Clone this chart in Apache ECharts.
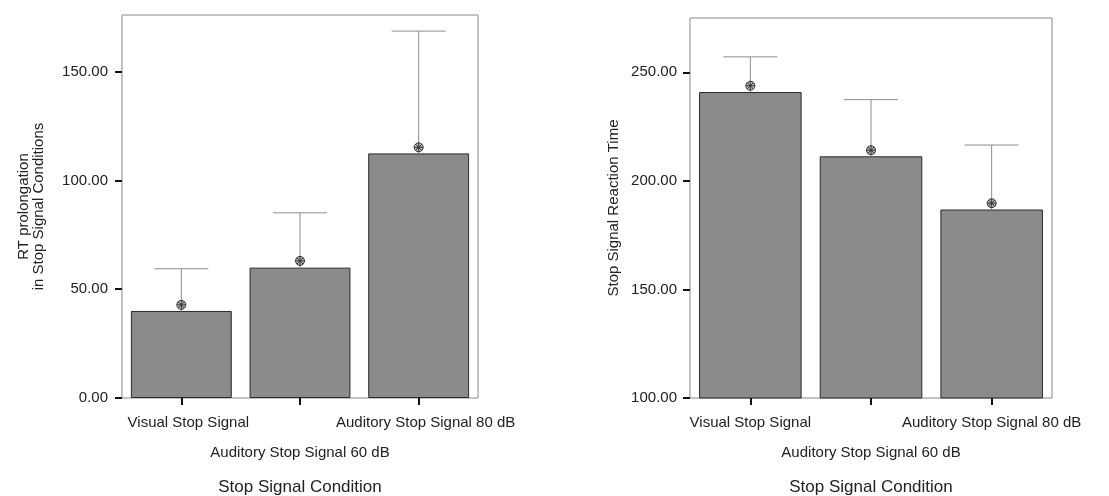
<!DOCTYPE html>
<html>
<head>
<meta charset="utf-8">
<script src="https://cdn.jsdelivr.net/npm/echarts@6/dist/echarts.min.js"></script>
<style>
  html, body { margin: 0; padding: 0; background: #fff; }
  #chart { width: 1109px; height: 496px; }
</style>
</head>
<body>
<div id="chart"></div>
<script>
// stop signal conditions
const categories = ['Visual Stop Signal', 'Auditory Stop Signal 60 dB', 'Auditory Stop Signal 80 dB']

// left panel: RT prolongation
const rtMeans = [40.0, 59.9, 112.4]
const rtMarkers = [42.8, 63.0, 115.2]
const rtErrTop = [59.4, 85.1, 168.6]
const rtTicks = [0, 50, 100, 150]

// right panel: stop signal reaction time
const ssrtMeans = [240.9, 211.3, 186.8]
const ssrtMarkers = [243.8, 214.1, 189.7]
const ssrtErrTop = [257.1, 237.4, 216.5]
const ssrtTicks = [100, 150, 200, 250]

const font = 'Liberation Sans, Arial, Helvetica, sans-serif'
const textColor = '#222'

function errData(means, tops, markers) {
  return means.map((m, i) => [i, m, tops[i], markers[i]])
}

function renderErr(params, api) {
  const i = api.value(0)
  const base = api.coord([i, api.value(1)])
  const top = api.coord([i, api.value(2)])
  const mk = api.coord([i, api.value(3)])
  const cap = 27
  const r = 4.5
  const d = r * 0.707
  const lineStyle = { stroke: '#8c8c8c', lineWidth: 1 }
  const mkStyle = { stroke: '#333', lineWidth: 1, fill: 'none' }
  return {
    type: 'group',
    children: [
      { type: 'line', shape: { x1: base[0], y1: base[1], x2: top[0], y2: top[1] }, style: lineStyle },
      { type: 'line', shape: { x1: top[0] - cap, y1: top[1], x2: top[0] + cap, y2: top[1] }, style: lineStyle },
      { type: 'circle', shape: { cx: mk[0], cy: mk[1], r: r }, style: { stroke: '#333', lineWidth: 1, fill: '#bbb' } },
      { type: 'line', shape: { x1: mk[0] - r, y1: mk[1], x2: mk[0] + r, y2: mk[1] }, style: mkStyle },
      { type: 'line', shape: { x1: mk[0], y1: mk[1] - r, x2: mk[0], y2: mk[1] + r }, style: mkStyle },
      { type: 'line', shape: { x1: mk[0] - d, y1: mk[1] - d, x2: mk[0] + d, y2: mk[1] + d }, style: mkStyle },
      { type: 'line', shape: { x1: mk[0] - d, y1: mk[1] + d, x2: mk[0] + d, y2: mk[1] - d }, style: mkStyle }
    ]
  }
}

// staggered labels; shift nudges the first row to the right
function xAxis(gridIndex, shift) {
  return {
    type: 'category',
    gridIndex: gridIndex,
    data: categories,
    axisLine: { show: false },
    axisTick: { show: true, alignWithLabel: true, length: 7, lineStyle: { color: '#111', width: 2 } },
    axisLabel: {
      interval: 0,
      margin: 10,
      color: textColor,
      fontFamily: font,
      fontSize: 15,
      lineHeight: 30,
      formatter: (v, i) => (i === 1 ? '\n' + v : '{r|' + v + '}'),
      rich: {
        r: { fontFamily: font, fontSize: 15, color: textColor, lineHeight: 30, padding: [0, 0, 0, shift] }
      }
    },
    name: 'Stop Signal Condition',
    nameLocation: 'middle',
    nameGap: 81,
    nameTextStyle: { color: textColor, fontFamily: font, fontSize: 17 }
  }
}

function yAxis(gridIndex, min, max, ticks, name, gap, margin) {
  return {
    type: 'value',
    gridIndex: gridIndex,
    min: min,
    max: max,
    interval: 50,
    splitLine: { show: false },
    axisLine: { show: false },
    axisTick: { show: true, length: 7, customValues: ticks, lineStyle: { color: '#111', width: 2 } },
    axisLabel: {
      margin: margin,
      color: textColor,
      fontFamily: font,
      fontSize: 15,
      customValues: ticks,
      formatter: v => v.toFixed(2)
    },
    name: name,
    nameLocation: 'middle',
    nameRotate: 90,
    nameGap: gap,
    nameTextStyle: { color: textColor, fontFamily: font, fontSize: 15, lineHeight: 15 }
  }
}

const barStyle = { color: '#8a8b8d', borderColor: '#2a2a2a', borderWidth: 1 }

const chart = echarts.init(document.getElementById('chart'))
chart.setOption({
  animation: false,
  backgroundColor: '#fff',
  grid: [
    { left: 122, top: 15, width: 356, height: 383, outerBoundsMode: 'none', containLabel: false, show: true, borderColor: '#888', borderWidth: 1, backgroundColor: 'transparent' },
    { left: 690, top: 18, width: 362, height: 380, outerBoundsMode: 'none', containLabel: false, show: true, borderColor: '#888', borderWidth: 1, backgroundColor: 'transparent' }
  ],
  xAxis: [xAxis(0, 14), xAxis(1, 0)],
  yAxis: [
    yAxis(0, 0, 176, rtTicks, 'RT prolongation\nin Stop Signal Conditions', 76, 14),
    yAxis(1, 100, 275, ssrtTicks, 'Stop Signal Reaction Time', 69, 13)
  ],
  series: [
    {
      type: 'bar',
      xAxisIndex: 0,
      yAxisIndex: 0,
      data: rtMeans,
      barCategoryGap: '15%',
      itemStyle: barStyle
    },
    {
      type: 'custom',
      xAxisIndex: 0,
      yAxisIndex: 0,
      data: errData(rtMeans, rtErrTop, rtMarkers),
      renderItem: renderErr,
      z: 5
    },
    {
      type: 'bar',
      xAxisIndex: 1,
      yAxisIndex: 1,
      data: ssrtMeans,
      barCategoryGap: '15%',
      itemStyle: barStyle
    },
    {
      type: 'custom',
      xAxisIndex: 1,
      yAxisIndex: 1,
      data: errData(ssrtMeans, ssrtErrTop, ssrtMarkers),
      renderItem: renderErr,
      z: 5
    }
  ]
})
</script>
</body>
</html>
